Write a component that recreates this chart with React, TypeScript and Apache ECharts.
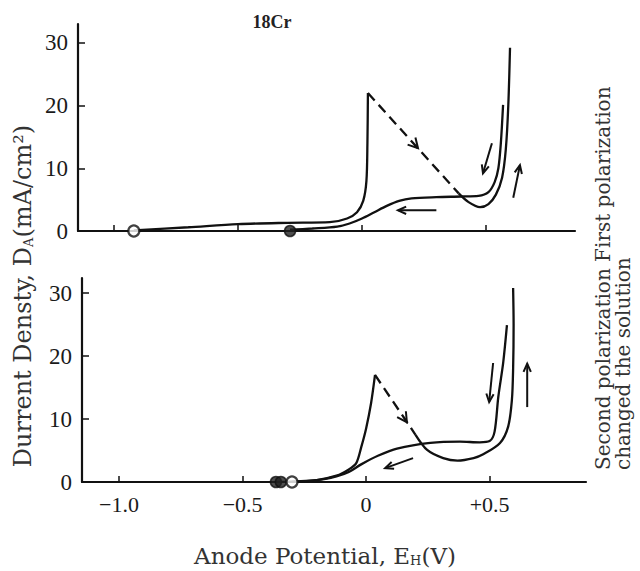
import React, { useEffect, useRef } from "react";
import * as echarts from "echarts";

// ---------- data (x: anode potential V, y: current density mA/cm2) ----------
const xTickValues = [-1, -0.5, 0, 0.5];
const xTickLabels = ["−1.0", "−0.5", "0", "+0.5"];
const yTickValues = [10, 20, 30];
const yLabelValues = [0, 10, 20, 30];

// First polarization (top)
const topForwardActive = [
  [-0.92, 0.1], [-0.7, 0.6], [-0.5, 1.1], [-0.3, 1.3], [-0.13, 1.4], [-0.06, 2.0],
  [-0.02, 3.0], [0.005, 4.8], [0.018, 8], [0.022, 14], [0.024, 22],
];
const topDashed = [[0.024, 22], [0.39, 6.0]];
const topForwardPassive = [
  [0.39, 6.0], [0.43, 4.6], [0.476, 3.8], [0.51, 4.3], [0.54, 5.8], [0.565, 8.5],
  [0.58, 13], [0.59, 20], [0.597, 29.2],
];
const topReverse = [
  [0.569, 20.1], [0.56, 14], [0.55, 10], [0.535, 7.8], [0.51, 6.2], [0.47, 5.6],
  [0.4, 5.5], [0.3, 5.4], [0.2, 5.2], [0.15, 4.8], [0.1, 4.0], [0.05, 3.0],
  [0.0, 2.0], [-0.05, 1.2], [-0.1, 0.7], [-0.2, 0.4], [-0.29, 0.2],
];
const topOpenMarkers = [[-0.92, 0]];
const topFilledMarkers = [[-0.29, 0]];
// arrows: [x1, y1, x2, y2, shaft(1) / chevron only(0)]
const topArrows = [
  [0.15, 16.5, 0.226, 13.2, 0],
  [0.3, 3.3, 0.145, 3.3, 1],
  [0.524, 14, 0.488, 9.2, 1],
  [0.61, 5.3, 0.637, 10.5, 1],
];

// Second polarization, changed the solution (bottom)
const bottomForwardActive = [
  [-0.3, 0], [-0.2, 0.3], [-0.12, 1.0], [-0.07, 2.0], [-0.04, 3.0], [-0.02, 5.5],
  [0.0, 8.5], [0.02, 12.5], [0.036, 17],
];
const bottomDashed = [[0.036, 17], [0.2, 7.5]];
const bottomForwardPassive = [
  [0.2, 7.5], [0.247, 5.1], [0.312, 3.8], [0.37, 3.4], [0.435, 3.8], [0.474, 4.4],
  [0.542, 6.2], [0.575, 8.8], [0.59, 13], [0.595, 18], [0.597, 25], [0.595, 30.8],
];
const bottomReverse = [
  [0.57, 24.9], [0.555, 19], [0.535, 13.5], [0.52, 8], [0.5, 6.5], [0.46, 6.3],
  [0.38, 6.4], [0.26, 6.2], [0.125, 5.3], [0.05, 4.2], [-0.02, 2.8], [-0.07, 1.6],
  [-0.12, 0.9], [-0.2, 0.3], [-0.36, 0],
];
const bottomOpenMarkers = [[-0.3, 0]];
const bottomFilledMarkers = [[-0.365, 0], [-0.345, 0]];
const bottomArrows = [
  [0.1, 13.3, 0.165, 9.5, 0],
  [0.19, 3.8, 0.077, 2.2, 1],
  [0.514, 18.9, 0.498, 12.7, 1],
  [0.652, 11.9, 0.652, 18.8, 1],
];

const INK = "#111";
const SERIF = "Liberation Serif";
const SERIF2 = "DejaVu Serif";

function arrowRender(params: any, api: any) {
  const p1 = api.coord([api.value(0), api.value(1)]);
  const p2 = api.coord([api.value(2), api.value(3)]);
  const shaft = api.value(4);
  const ang = Math.atan2(p2[1] - p1[1], p2[0] - p1[0]);
  const L = shaft ? 9 : 11;
  const a = shaft ? 0.42 : 0.5;
  const h1 = [p2[0] - L * Math.cos(ang - a), p2[1] - L * Math.sin(ang - a)];
  const h2 = [p2[0] - L * Math.cos(ang + a), p2[1] - L * Math.sin(ang + a)];
  const children: any[] = [];
  if (shaft) {
    children.push({
      type: "line",
      shape: { x1: p1[0], y1: p1[1], x2: p2[0], y2: p2[1] },
      style: { stroke: INK, lineWidth: 2 },
    });
  }
  children.push({
    type: "polyline",
    shape: { points: [h1, p2, h2] },
    style: { stroke: INK, lineWidth: 2, fill: "none" },
  });
  return { type: "group", children };
}

function curve(data: number[][], idx: number, dashed = false, smooth: number = 0.3) {
  return {
    type: "line",
    xAxisIndex: idx,
    yAxisIndex: idx,
    data,
    showSymbol: false,
    smooth,
    lineStyle: { color: INK, width: 2.3, type: dashed ? [10, 6] : "solid" },
    z: 3,
  };
}

function markers(data: number[][], idx: number, open: boolean) {
  return {
    type: "scatter",
    xAxisIndex: idx,
    yAxisIndex: idx,
    data,
    symbol: "circle",
    symbolSize: 11,
    itemStyle: open
      ? { color: "#fff", borderColor: INK, borderWidth: 2.2 }
      : { color: "#222", borderColor: INK, borderWidth: 1.5 },
    z: 5,
  };
}

function xAxisDef(idx: number, min: number, max: number, labels: boolean) {
  return {
    type: "value",
    gridIndex: idx,
    min,
    max,
    axisLine: { show: true, onZero: false, lineStyle: { color: INK, width: 2.2 } },
    axisTick: { show: true, inside: true, length: 6, customValues: xTickValues, lineStyle: { color: INK, width: 1.5 } },
    axisLabel: {
      show: labels,
      customValues: xTickValues,
      formatter: (v: number) => {
        const i = xTickValues.findIndex((t) => Math.abs(t - v) < 1e-9);
        return i >= 0 ? xTickLabels[i] : "";
      },
      fontFamily: SERIF,
      fontSize: 22,
      color: "#1a1a1a",
      margin: 11,
    },
    splitLine: { show: false },
  };
}

function yAxisDef(idx: number, max: number) {
  return {
    type: "value",
    gridIndex: idx,
    min: 0,
    max,
    axisLine: { show: true, onZero: false, lineStyle: { color: INK, width: 2.2 } },
    axisTick: { show: true, inside: true, length: 7, customValues: yTickValues, lineStyle: { color: INK, width: 1.5 } },
    axisLabel: {
      show: true,
      customValues: yLabelValues,
      fontFamily: SERIF,
      fontSize: 23,
      color: "#1a1a1a",
      margin: 10,
    },
    splitLine: { show: false },
  };
}

export default function App() {
  const ref = useRef<HTMLDivElement>(null);
  useEffect(() => {
    if (!ref.current) return;
    const chart = echarts.init(ref.current, null, { renderer: "svg" });
    chart.setOption({
      animation: false,
      backgroundColor: "#fff",
      grid: [
        { left: 78, top: 24, width: 497, height: 207 },
        { left: 82, top: 278, width: 504, height: 204 },
      ],
      xAxis: [xAxisDef(0, -1.145, 0.859, false), xAxisDef(1, -1.15, 0.89, true)],
      yAxis: [yAxisDef(0, 33), yAxisDef(1, 32.4)],
      series: [
        curve(topForwardActive, 0),
        curve(topDashed, 0, true, 0),
        curve(topForwardPassive, 0),
        curve(topReverse, 0),
        markers(topOpenMarkers, 0, true),
        markers(topFilledMarkers, 0, false),
        { type: "custom", xAxisIndex: 0, yAxisIndex: 0, data: topArrows, renderItem: arrowRender, z: 4 },
        curve(bottomForwardActive, 1),
        curve(bottomDashed, 1, true, 0),
        curve(bottomForwardPassive, 1),
        curve(bottomReverse, 1),
        markers(bottomFilledMarkers, 1, false),
        markers(bottomOpenMarkers, 1, true),
        { type: "custom", xAxisIndex: 1, yAxisIndex: 1, data: bottomArrows, renderItem: arrowRender, z: 4 },
      ],
      graphic: [
        {
          type: "text",
          x: 272,
          y: 22,
          style: { text: "18Cr", fontFamily: SERIF, fontWeight: "bold", fontSize: 18, fill: "#222", textAlign: "center", textVerticalAlign: "middle" },
        },
        {
          type: "text",
          x: 23,
          y: 296,
          rotation: Math.PI / 2,
          style: {
            text: "{n|Durrent Densty, D}{s|A}{n|(mA/cm²)}",
            textAlign: "center",
            textVerticalAlign: "middle",
            fill: "#333",
            rich: {
              n: { fontFamily: SERIF2, fontSize: 24, fill: "#333" },
              s: { fontFamily: SERIF2, fontSize: 13, fill: "#333", padding: [10, 0, 0, 0] },
            },
          },
        },
        {
          type: "text",
          x: 325,
          y: 556,
          style: {
            text: "{n|Anode Potential, E}{s|H}{n|(V)}",
            textAlign: "center",
            textVerticalAlign: "middle",
            fill: "#333",
            rich: {
              n: { fontFamily: SERIF2, fontSize: 23, fill: "#333" },
              s: { fontFamily: SERIF2, fontSize: 13, fill: "#333", padding: [8, 0, 0, 0] },
            },
          },
        },
        {
          type: "text",
          x: 603,
          y: 470,
          rotation: Math.PI / 2,
          style: { text: "Second polarization First polarization", fontFamily: SERIF2, fontSize: 20, fill: "#333", textAlign: "left", textVerticalAlign: "middle" },
        },
        {
          type: "text",
          x: 623,
          y: 470,
          rotation: Math.PI / 2,
          style: { text: "changed the solution", fontFamily: SERIF2, fontSize: 20, fill: "#333", textAlign: "left", textVerticalAlign: "middle" },
        },
      ],
    });
    return () => chart.dispose();
  }, []);
  return <div ref={ref} style={{ position: "fixed", left: 0, top: 0, width: 640, height: 571 }} />;
}
